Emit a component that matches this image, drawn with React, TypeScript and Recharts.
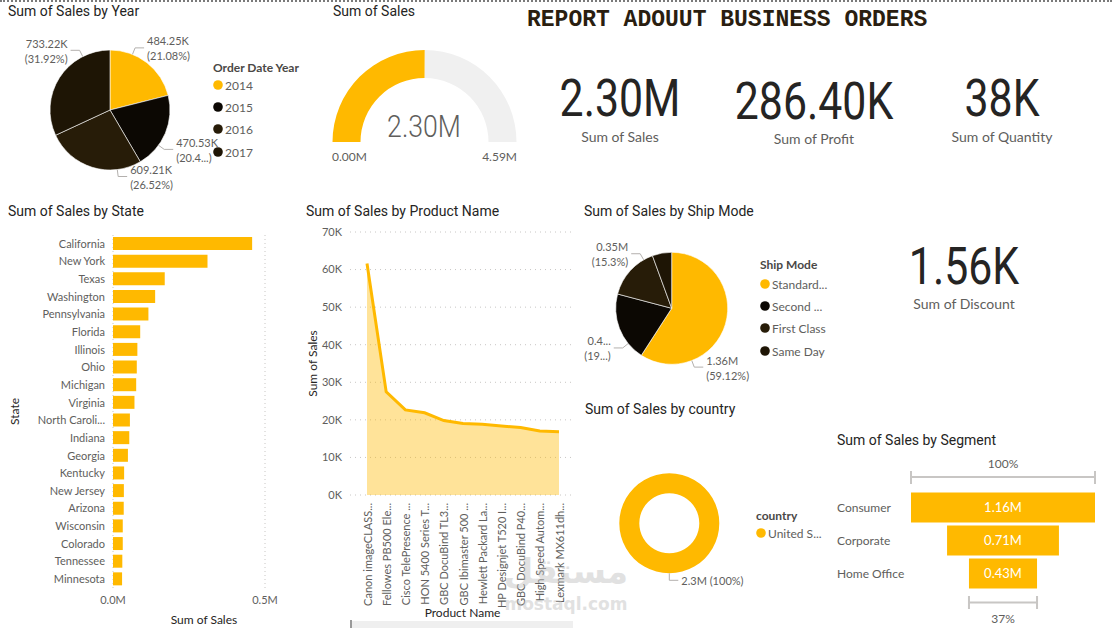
import React from "react";
import {
  Area,
  AreaChart,
  Bar,
  BarChart,
  CartesianGrid,
  Cell,
  LabelList,
  Pie,
  PieChart,
  XAxis,
  YAxis,
} from "recharts";

const YELLOW = "#FFB900";
const SLICE = [YELLOW, "#0C0803", "#271C08", "#1E1505"];
const INK = "#252423";
const GREY = "#605E5C";
const LEADER = "#B3B0AD";
const GRID = "#C8C6C4";
const TITLE = "Roboto, sans-serif";
const BODY = "Lato, 'Noto Sans', sans-serif";
const NO_MARGIN = { top: 0, right: 0, bottom: 0, left: 0 };

// sales by order year (K)
const years = ["2014", "2015", "2016", "2017"];
const yearSales = [484.25, 470.53, 609.21, 733.22];
const yearValueText = ["484.25K", "470.53K", "609.21K", "733.22K"];
const yearPctText = ["(21.08%)", "(20.4...)", "(26.52%)", "(31.92%)"];
const yearLabelAngle = [68, -36, -83, 117];

// gauge (M)
const gaugeValue = 2.3;
const gaugeMax = 4.59;

// cards
const cardValues = ["2.30M", "286.40K", "38K", "1.56K"];
const cardNames = ["Sum of Sales", "Sum of Profit", "Sum of Quantity", "Sum of Discount"];

const states = [
  "California", "New York", "Texas", "Washington", "Pennsylvania", "Florida", "Illinois",
  "Ohio", "Michigan", "Virginia", "North Caroli...", "Indiana", "Georgia", "Kentucky",
  "New Jersey", "Arizona", "Wisconsin", "Colorado", "Tennessee", "Minnesota",
];
const stateSales = [
  457688, 310876, 170188, 138641, 116512, 89474, 80166, 78258, 76270, 70637,
  55603, 53555, 49096, 36592, 35764, 35282, 32115, 32108, 30662, 29863,
];

const products = [
  "Canon imageCLASS...", "Fellowes PB500 Ele...", "Cisco TelePresence ...", "HON 5400 Series T...",
  "GBC DocuBind TL3...", "GBC Ibimaster 500 ...", "Hewlett Packard La...", "HP Designjet T520 I...",
  "GBC DocuBind P40...", "High Speed Autom...", "Lexmark MX611dh...",
];
const productSales = [61600, 27450, 22640, 21870, 19820, 19020, 18840, 18370, 17970, 17030, 16830];

const shipModes = ["Standard...", "Second ...", "First Class", "Same Day"];
const shipSales = [1358.22, 459.19, 351.43, 128.36];
const shipValueText = ["1.36M", "0.4...", "0.35M", ""];
const shipPctText = ["(59.12%)", "(19...)", "(15.3%)", ""];
const shipLabelAngle: (number | null)[] = [-69, -141, 120, null];

const countries = ["United S..."];
const countrySales = [2297.2];
const countryText = ["2.3M (100%)"];

const segments = ["Consumer", "Corporate", "Home Office"];
const segmentSales = [1161.4, 706.15, 429.65];

const yearData = years.map((y, i) => ({ year: y, sales: yearSales[i] }));
const gaugeData = [{ v: gaugeValue }, { v: gaugeMax - gaugeValue }];
const stateData = states.map((s, i) => ({ state: s, sales: stateSales[i] }));
const productData = products.map((p, i) => ({ name: p, sales: productSales[i] }));
const shipData = shipModes.map((m, i) => ({ mode: m, sales: shipSales[i] }));
const countryData = countries.map((c, i) => ({ country: c, sales: countrySales[i] }));
const segMax = Math.max(...segmentSales);
const funnelData = segments.map((s, i) => ({ segment: s, pad: (segMax - segmentSales[i]) / 2, sales: segmentSales[i] }));

const small = { fontSize: 11, fill: GREY, fontFamily: BODY };

/** Power BI style leader label: short radial stub, then a horizontal tail. */
const leader = (angles: (number | null)[], top: string[], bottom?: string[]) => (p: any) => {
  const a = angles[p.index];
  if (a == null || !top[p.index]) return null;
  const r = (Math.PI / 180) * a;
  const cos = Math.cos(r);
  const sin = Math.sin(r);
  const px = p.cx + p.outerRadius * cos;
  const py = p.cy - p.outerRadius * sin;
  const ex = p.cx + (p.outerRadius + 7) * cos;
  const ey = p.cy - (p.outerRadius + 7) * sin;
  const right = cos > -0.01;
  const hx = ex + (right ? 9 : -9);
  const tx = hx + (right ? 3 : -3);
  const anchor = right ? "start" : "end";
  return (
    <g key={`lab-${p.index}`}>
      <polyline points={`${px},${py} ${ex},${ey} ${hx},${ey}`} fill="none" stroke={LEADER} />
      {bottom ? (
        <>
          <text x={tx} y={ey - 7} textAnchor={anchor} dominantBaseline="central" {...small}>{top[p.index]}</text>
          <text x={tx} y={ey + 8} textAnchor={anchor} dominantBaseline="central" {...small}>{bottom[p.index]}</text>
        </>
      ) : (
        <text x={tx} y={ey} textAnchor={anchor} dominantBaseline="central" {...small}>{top[p.index]}</text>
      )}
    </g>
  );
};

const RotTick = ({ x, y, payload }: any) => (
  <text transform={`translate(${x},${y}) rotate(-90)`} textAnchor="end" dominantBaseline="central" {...small}>
    {payload.value}
  </text>
);

const SegTick = ({ y, payload }: any) => (
  <text x={7} y={y} dominantBaseline="central" fontSize={12} fill={GREY} fontFamily={BODY}>{payload.value}</text>
);

function Box({ left, top, children }: { left: number; top: number; children: React.ReactNode }) {
  return <div style={{ position: "absolute", left, top }}>{children}</div>;
}

function Title({ x, y, children }: { x: number; y: number; children: React.ReactNode }) {
  return <text x={x} y={y} dominantBaseline="central" fontSize={14} fill={INK} fontFamily={TITLE}>{children}</text>;
}

function LegendBlock({ x, y, title, items, colors, step }: { x: number; y: number; title: string; items: string[]; colors: string[]; step: number[] }) {
  return (
    <g>
      <text x={x} y={y} dominantBaseline="central" fontSize={12} fontWeight={700} fill="#4a4846" fontFamily={BODY}>{title}</text>
      {items.map((it, i) => (
        <g key={it}>
          <circle cx={x + 5} cy={step[i]} r={4.8} fill={colors[i]} />
          <text x={x + 12} y={step[i]} dominantBaseline="central" fontSize={12} fill={GREY} fontFamily={BODY}>{it}</text>
        </g>
      ))}
    </g>
  );
}

export default function App() {
  // funnel geometry (plot spans 911..1095)
  const fl = 911;
  const fw = 184;
  const last = segmentSales.length - 1;
  const hoX0 = fl + (funnelData[last].pad / segMax) * fw;
  const hoX1 = hoX0 + (segmentSales[last] / segMax) * fw;

  const cards: [number, number, number][] = [
    [620, 98, 136],
    [814, 101, 138],
    [1002, 98, 136],
    [964, 266, 303],
  ];

  return (
    <div style={{ position: "absolute", left: 0, top: 0, width: 1112, height: 628, background: "#fff", overflow: "hidden" }}>
      <div style={{ position: "absolute", left: 0, top: 0, width: 1112, borderTop: "2px dotted #7a7a7a" }} />

      <Box left={0} top={0}>
        <PieChart width={320} height={200} margin={NO_MARGIN}>
          <Pie data={yearData} dataKey="sales" nameKey="year" cx={110} cy={110} outerRadius={60}
            startAngle={90} endAngle={-270} stroke="#ffffff" strokeWidth={0.6} isAnimationActive={false}
            labelLine={false} label={leader(yearLabelAngle, yearValueText, yearPctText)}>
            {yearData.map((d, i) => <Cell key={d.year} fill={SLICE[i]} />)}
          </Pie>
        </PieChart>
      </Box>

      <Box left={320} top={0}>
        <PieChart width={220} height={190} margin={NO_MARGIN}>
          <Pie data={gaugeData} dataKey="v" cx={104.5} cy={142} startAngle={180} endAngle={0}
            innerRadius={64} outerRadius={92} stroke="none" isAnimationActive={false}>
            <Cell fill={YELLOW} />
            <Cell fill="#F0F0F0" />
          </Pie>
        </PieChart>
      </Box>

      <Box left={0} top={222}>
        <BarChart width={290} height={406} layout="vertical" data={stateData} barSize={13}
          margin={{ top: 13, right: 25, bottom: 0, left: 0 }}>
          <CartesianGrid horizontal={false} strokeDasharray="1 3" stroke={GRID} />
          <XAxis type="number" domain={[0, 500000]} ticks={[0, 500000]} axisLine={false} tickLine={false}
            tickFormatter={(v: number) => `${(v / 1e6).toFixed(1)}M`} tick={small} height={40}
            label={{ value: "Sum of Sales", position: "insideBottom", offset: 4, dx: 15, fill: INK, fontSize: 12, fontFamily: BODY }} />
          <YAxis type="category" dataKey="state" width={113} axisLine={false} tickLine={false} interval={0} tick={small}
            label={{ value: "State", angle: -90, position: "insideLeft", offset: 15, style: { textAnchor: "middle" }, fill: INK, fontSize: 12, fontFamily: BODY }} />
          <Bar dataKey="sales" fill={YELLOW} isAnimationActive={false} />
        </BarChart>
      </Box>

      <Box left={290} top={222}>
        <AreaChart width={290} height={400} data={productData} margin={{ top: 10, right: 5, bottom: 0, left: 0 }}>
          <CartesianGrid vertical={false} strokeDasharray="1 4" stroke={GRID} />
          <XAxis dataKey="name" interval={0} height={127} axisLine={false} tickLine={false}
            padding={{ left: 17, right: 16 }} tick={(p: any) => <RotTick {...p} />}
            label={{ value: "Product Name", position: "insideBottom", offset: 5, fill: INK, fontSize: 12, fontFamily: BODY }} />
          <YAxis width={60} domain={[0, 70000]} ticks={[0, 10000, 20000, 30000, 40000, 50000, 60000, 70000]}
            tickFormatter={(v: number) => `${v / 1000}K`} axisLine={false} tickLine={false} tick={small}
            label={{ value: "Sum of Sales", angle: -90, position: "insideLeft", offset: 23, style: { textAnchor: "middle" }, fill: INK, fontSize: 12, fontFamily: BODY }} />
          <Area type="linear" dataKey="sales" stroke={YELLOW} strokeWidth={3} fill={YELLOW} fillOpacity={0.4}
            isAnimationActive={false} />
        </AreaChart>
      </Box>

      <Box left={575} top={220}>
        <PieChart width={185} height={180} margin={NO_MARGIN}>
          <Pie data={shipData} dataKey="sales" nameKey="mode" cx={96.7} cy={88.3} outerRadius={56}
            startAngle={90} endAngle={-270} stroke="#ffffff" strokeWidth={0.6} isAnimationActive={false}
            labelLine={false} label={leader(shipLabelAngle, shipValueText, shipPctText)}>
            {shipData.map((d, i) => <Cell key={d.mode} fill={SLICE[i]} />)}
          </Pie>
        </PieChart>
      </Box>

      <Box left={575} top={420}>
        <PieChart width={185} height={180} margin={NO_MARGIN}>
          <Pie data={countryData} dataKey="sales" nameKey="country" cx={94.3} cy={103.3} innerRadius={30} outerRadius={50}
            startAngle={90} endAngle={-270} stroke="none" isAnimationActive={false}
            labelLine={false} label={leader([-90], countryText)}>
            <Cell fill={YELLOW} />
          </Pie>
        </PieChart>
      </Box>

      <Box left={830} top={480}>
        <BarChart width={282} height={120} layout="vertical" data={funnelData} barSize={30}
          margin={{ top: 10.5, right: 17, bottom: 10.5, left: 0 }}>
          <XAxis type="number" hide domain={[0, segMax]} />
          <YAxis type="category" dataKey="segment" width={81} axisLine={false} tickLine={false}
            tick={(p: any) => <SegTick {...p} />} />
          <Bar dataKey="pad" stackId="f" fill="transparent" isAnimationActive={false} />
          <Bar dataKey="sales" stackId="f" fill={YELLOW} isAnimationActive={false}>
            <LabelList dataKey="sales" position="center" fill="#ffffff" fontSize={13} fontFamily={BODY}
              formatter={(v: any) => `${(Number(v) / 1000).toFixed(2)}M`} />
          </Bar>
        </BarChart>
      </Box>

      <svg width={1112} height={628} style={{ position: "absolute", left: 0, top: 0, pointerEvents: "none" }}>
        <Title x={8} y={11}>Sum of Sales by Year</Title>
        <Title x={333} y={11}>Sum of Sales</Title>
        <Title x={8} y={211}>Sum of Sales by State</Title>
        <Title x={306} y={211}>Sum of Sales by Product Name</Title>
        <Title x={584} y={211}>Sum of Sales by Ship Mode</Title>
        <Title x={585} y={409}>Sum of Sales by country</Title>
        <Title x={837} y={440}>Sum of Sales by Segment</Title>

        <text x={527} y={20} dominantBaseline="central" fontSize={23} fontWeight={700} fill="#2a1e10"
          fontFamily="'Liberation Mono', 'Courier New', monospace">REPORT ADOUUT BUSINESS ORDERS</text>

        <LegendBlock x={213} y={67} title="Order Date Year" items={years} colors={SLICE} step={[85, 107, 129, 152]} />
        <LegendBlock x={760} y={264} title="Ship Mode" items={shipModes} colors={SLICE} step={[284, 306, 328, 351]} />
        <LegendBlock x={756} y={515} title="country" items={countries} colors={[YELLOW]} step={[533]} />

        {/* gauge texts */}
        <text transform="translate(424,126) scale(0.86,1)" textAnchor="middle" dominantBaseline="central"
          fontSize={31} fontWeight={300} fill={GREY} fontFamily={TITLE}>{`${gaugeValue.toFixed(2)}M`}</text>
        <text x={332} y={156} dominantBaseline="central" {...small} fontSize={12}>0.00M</text>
        <text x={517} y={156} textAnchor="end" dominantBaseline="central" {...small} fontSize={12}>{`${gaugeMax.toFixed(2)}M`}</text>

        {/* cards */}
        {cards.map(([cx, cy, ly], i) => (
          <g key={cardNames[i]}>
            <text transform={`translate(${cx},${cy}) scale(0.84,1)`} textAnchor="middle" dominantBaseline="central"
              fontSize={51} fill={INK} fontFamily={TITLE}>{cardValues[i]}</text>
            <text x={cx} y={ly} textAnchor="middle" dominantBaseline="central" fontSize={14} fill={GREY}
              fontFamily={BODY}>{cardNames[i]}</text>
          </g>
        ))}

        {/* funnel brackets */}
        <g stroke="#C8C6C4" strokeWidth={2} fill="none">
          <path d={`M${fl},477 H${fl + fw} M${fl},471 V484 M${fl + fw},471 V484`} />
          <path d={`M${hoX0},602.5 H${hoX1} M${hoX0},596 V609 M${hoX1},596 V609`} />
        </g>
        <text x={fl + fw / 2} y={463} textAnchor="middle" dominantBaseline="central" {...small} fontSize={12}>100%</text>
        <text x={(hoX0 + hoX1) / 2} y={618} textAnchor="middle" dominantBaseline="central" {...small} fontSize={12}>
          {`${Math.round((segmentSales[last] / segMax) * 100)}%`}
        </text>

        {/* product chart scrollbar */}
        <rect x={352} y={621} width={221} height={7} fill="#EFEFEF" />
        <rect x={350} y={620} width={2} height={8} fill="#9a9a9a" />

        {/* watermark */}
        <g fill="#bdbdbd" opacity={0.45} fontWeight={700} fontFamily="'DejaVu Sans', sans-serif" textAnchor="middle">
          <text x={566} y={571} dominantBaseline="central" fontSize={34}>مستقل</text>
          <text x={566} y={604} dominantBaseline="central" fontSize={17}>mostaql.com</text>
        </g>
      </svg>
    </div>
  );
}
